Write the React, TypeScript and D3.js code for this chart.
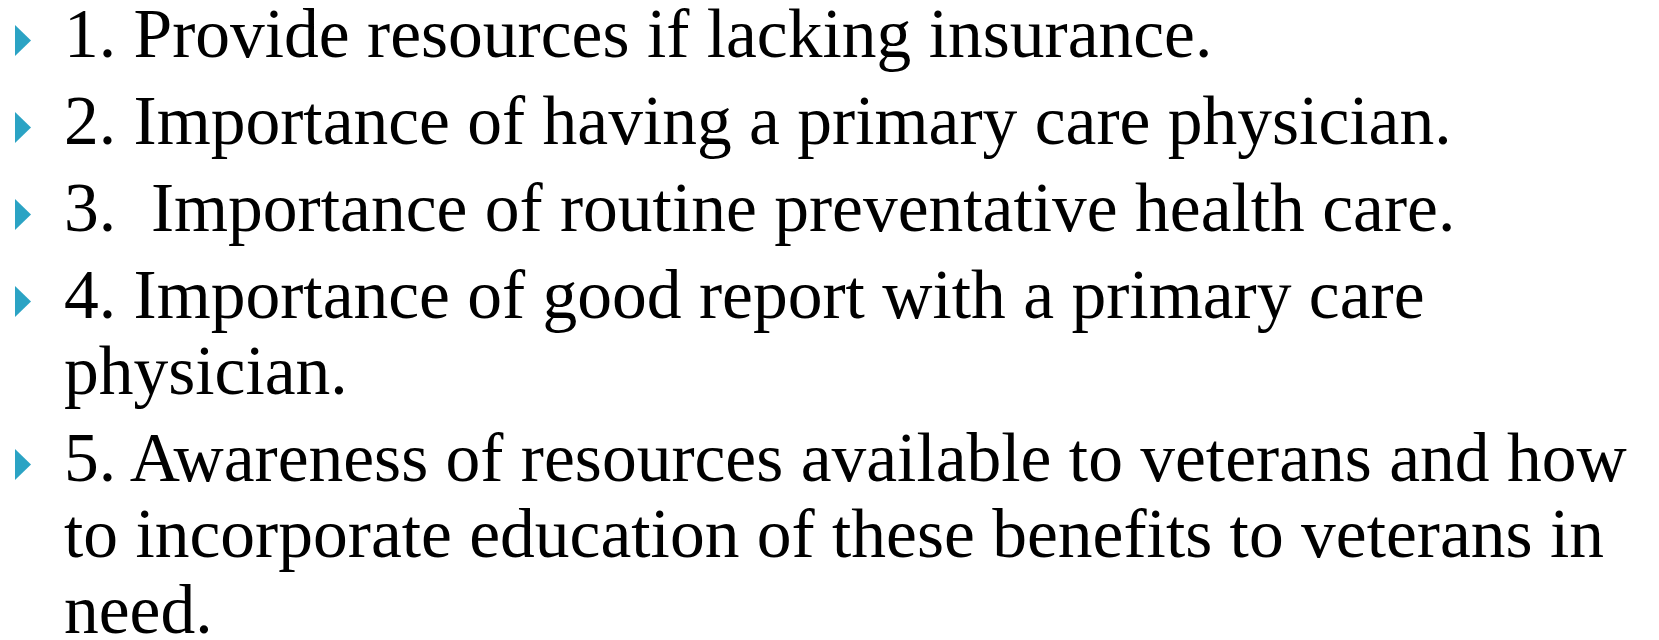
import React, { useEffect, useRef } from 'react'
import * as d3 from 'd3'

// slide content: each item is a list of wrapped lines
const items: string[][] = [
  ['1. Provide resources if lacking insurance.'],
  ['2. Importance of having a primary care physician.'],
  ['3.  Importance of routine preventative health care.'],
  ['4. Importance of good report with a primary care', 'physician.'],
  ['5. Awareness of resources available to veterans and how', 'to incorporate education of these benefits to veterans in', 'need.'],
]

export default function App() {
  const ref = useRef<SVGSVGElement>(null)

  const width = 1659,
    height = 640
  const cfg = {
    textX: 64, // left edge of the text column
    bulletX: 15, // left edge of the bullet triangle
    bulletW: 16,
    bulletH: 31,
    firstBaseline: 57,
    lineHeight: 76,
    paraGap: 11,
    fontSize: 69.5,
    bulletColor: '#2ba3c4',
  }

  useEffect(() => {
    const svg = d3.select(ref.current)
    svg.selectAll('*').remove()

    // work out the baseline of every line
    const rows: { text: string; y: number; first: boolean }[] = []
    let y = cfg.firstBaseline
    items.forEach((lines, i) => {
      if (i > 0) y += cfg.paraGap
      lines.forEach((t, j) => {
        rows.push({ text: t, y, first: j === 0 })
        y += cfg.lineHeight
      })
    })

    // bullets
    const tri = d3.line()
    svg.selectAll('.bullet')
      .data(rows.filter((r) => r.first))
      .enter()
      .append('path')
      .attr('class', 'bullet')
      .attr('d', (d) =>
        tri([
          [cfg.bulletX, d.y - 1 - cfg.bulletH],
          [cfg.bulletX + cfg.bulletW, d.y - 1 - cfg.bulletH / 2],
          [cfg.bulletX, d.y - 1],
        ]) + 'Z'
      )
      .style('fill', cfg.bulletColor)

    // text lines
    svg.selectAll('.line')
      .data(rows)
      .enter()
      .append('text')
      .attr('class', 'line')
      .attr('x', cfg.textX)
      .attr('y', (d) => d.y)
      .attr('xml:space', 'preserve')
      .style('white-space', 'pre')
      .style('font-family', '"Liberation Serif", serif')
      .style('font-size', cfg.fontSize + 'px')
      .style('fill', '#000')
      .text((d) => d.text)
  }, [])

  return (
    <svg
      ref={ref}
      width={width}
      height={height}
      style={{ position: 'absolute', left: 0, top: 0, background: '#fff' }}
    />
  )
}
